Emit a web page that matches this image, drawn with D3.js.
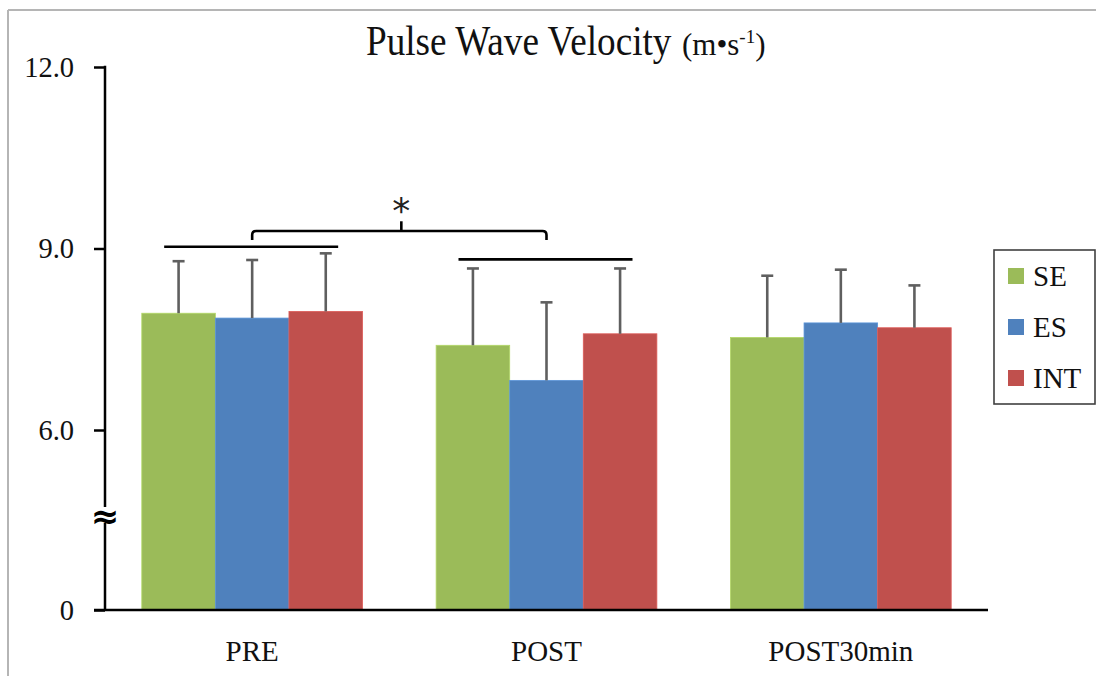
<!DOCTYPE html>
<html>
<head>
<meta charset="utf-8">
<script src="https://cdn.jsdelivr.net/npm/d3@7"></script>
</head>
<body style="margin:0;padding:0;background:#fff">
<svg id="chart" width="1096" height="676" style="display:block"></svg>
<script>
// ---- data ----
const categories = ["PRE", "POST", "POST30min"];
const seriesNames = ["SE", "ES", "INT"];
const seriesColors = ["#9BBB59", "#4F81BD", "#C0504D"];
const valuesSE  = [7.93, 7.40, 7.53];
const valuesES  = [7.85, 6.82, 7.77];
const valuesINT = [7.96, 7.59, 7.69];
const errSE  = [0.86, 1.27, 1.02];
const errES  = [0.96, 1.29, 0.88];
const errINT = [0.96, 1.08, 0.70];
const yTickValues = [0, 6, 9, 12];
const yTickLabels = ["0", "6.0", "9.0", "12.0"];
// significance annotation (value space)
const sigGroupLines = [{cat: "PRE", v: 9.03}, {cat: "POST", v: 8.82}];
const sigBracket = {from: "PRE", to: "POST", top: 9.29, legs: 9.14, tick: 9.45, star: 9.66};

const seriesValues = [valuesSE, valuesES, valuesINT];
const seriesErrors = [errSE, errES, errINT];
const SERIF = "'Liberation Serif'";

const svg = d3.select("#chart");

// outer frame (partial, as in reference)
svg.append("line").attr("x1", 8).attr("x2", 1096).attr("y1", 10).attr("y2", 10)
  .attr("stroke", "#b5b5b5").attr("stroke-width", 2);
svg.append("line").attr("x1", 8).attr("x2", 8).attr("y1", 10).attr("y2", 676)
  .attr("stroke", "#b5b5b5").attr("stroke-width", 2);

// scales: broken axis (0..6 compressed)
const y = d3.scaleLinear().domain([0, 6, 12]).range([610, 430, 67]);
const x = d3.scaleBand().domain(categories).range([105, 988]).paddingInner(0.25).paddingOuter(0.125);
const xs = d3.scaleBand().domain(seriesNames).range([0, x.bandwidth()]);

// bars
const barData = [];
categories.forEach((c, i) => {
  seriesNames.forEach((s, j) => {
    barData.push({cat: c, ser: s, v: seriesValues[j][i], e: seriesErrors[j][i], color: seriesColors[j]});
  });
});

svg.append("g").selectAll("rect").data(barData).join("rect")
  .attr("x", d => x(d.cat) + xs(d.ser))
  .attr("width", xs.bandwidth())
  .attr("y", d => y(d.v))
  .attr("height", d => y(0) - y(d.v))
  .attr("fill", d => d.color)
  .attr("stroke", d => d3.color(d.color).brighter(0.4))
  .attr("stroke-width", 0.8);

// error bars (upper only)
const eg = svg.append("g").attr("stroke", "#5f5f5f").attr("stroke-width", 2.6);
barData.forEach(d => {
  const cx = x(d.cat) + xs(d.ser) + xs.bandwidth() / 2;
  eg.append("line").attr("x1", cx).attr("x2", cx).attr("y1", y(d.v)).attr("y2", y(d.v + d.e));
  eg.append("line").attr("x1", cx - 6).attr("x2", cx + 6).attr("y1", y(d.v + d.e)).attr("y2", y(d.v + d.e));
});

// y axis
const yAxis = d3.axisLeft(y).tickValues(yTickValues).tickSize(11).tickPadding(20)
  .tickFormat((d, i) => yTickLabels[i]);
const gy = svg.append("g").attr("transform", "translate(105,0)").call(yAxis);
gy.select(".domain").remove();
gy.selectAll(".tick line").attr("stroke", "#000").attr("stroke-width", 2.5);
gy.selectAll(".tick text").attr("font-size", 28.5).attr("fill", "#111")
  .style("font-family", SERIF);
svg.append("line").attr("x1", 105).attr("x2", 105).attr("y1", y(12) - 1.2).attr("y2", y(0))
  .attr("stroke", "#000").attr("stroke-width", 2.5);

// x axis
const xAxis = d3.axisBottom(x).tickSize(0).tickPadding(30);
const gx = svg.append("g").attr("transform", `translate(0,${y(0)})`).call(xAxis);
gx.select(".domain").remove();
gx.selectAll(".tick text").attr("font-size", 29).attr("fill", "#111")
  .style("font-family", SERIF);
svg.append("line").attr("x1", 94).attr("x2", 988).attr("y1", y(0)).attr("y2", y(0))
  .attr("stroke", "#000").attr("stroke-width", 2.5);

// axis break symbol
const by = (y(0) + y(6)) / 2 - 4;
svg.append("rect").attr("x", 97).attr("y", by - 9).attr("width", 16).attr("height", 16).attr("fill", "#fff");
svg.append("text").attr("x", 105).attr("y", by).attr("text-anchor", "middle")
  .attr("dominant-baseline", "central").attr("font-size", 34).attr("font-weight", "bold")
  .style("font-family", "'DejaVu Sans'").text("≈");

// significance lines
const sg = svg.append("g").attr("stroke", "#000").attr("stroke-width", 2.6).attr("fill", "none");
sigGroupLines.forEach(d => {
  const cx = x(d.cat) + x.bandwidth() / 2;
  sg.append("line").attr("x1", cx - 88).attr("x2", cx + 86).attr("y1", y(d.v)).attr("y2", y(d.v));
});
const bx0 = x(sigBracket.from) + x.bandwidth() / 2;
const bx1 = x(sigBracket.to) + x.bandwidth() / 2;
const bt = y(sigBracket.top), bl = y(sigBracket.legs), r = 4;
sg.append("path").attr("d",
  `M${bx0},${bl} L${bx0},${bt + r} Q${bx0},${bt} ${bx0 + r},${bt} L${bx1 - r},${bt} Q${bx1},${bt} ${bx1},${bt + r} L${bx1},${bl}`);
const bm = (bx0 + bx1) / 2 + 2;
sg.append("line").attr("x1", bm).attr("x2", bm).attr("y1", bt).attr("y2", y(sigBracket.tick));
svg.append("text").attr("x", bm).attr("y", y(sigBracket.star) + 14).attr("text-anchor", "middle")
  .attr("font-size", 36).style("font-family", "'DejaVu Sans'").attr("fill", "#222").text("*");

// title (main part is narrow in the reference)
svg.append("text").attr("transform", "translate(366,55) scale(0.865,1)").attr("fill", "#111")
  .style("font-family", SERIF).attr("font-size", 43).text("Pulse Wave Velocity");
const units = svg.append("text").attr("x", 682).attr("y", 55).attr("fill", "#111").style("font-family", SERIF);
units.append("tspan").attr("font-size", 31).text("(m•s");
units.append("tspan").attr("font-size", 19).attr("dy", -12).text("-1");
units.append("tspan").attr("font-size", 31).attr("dy", 12).text(")");

// legend
const lg = svg.append("g");
lg.append("rect").attr("x", 994).attr("y", 250).attr("width", 101).attr("height", 154)
  .attr("fill", "#fff").attr("stroke", "#404040").attr("stroke-width", 1.6);
seriesNames.forEach((s, j) => {
  const cy = 276 + j * 51;
  lg.append("rect").attr("x", 1008).attr("y", cy - 8).attr("width", 16).attr("height", 16).attr("fill", seriesColors[j]);
  lg.append("text").attr("x", 1033).attr("y", cy).attr("dominant-baseline", "central")
    .attr("font-size", 29).attr("fill", "#111").style("font-family", SERIF).text(s);
});
</script>
</body>
</html>
